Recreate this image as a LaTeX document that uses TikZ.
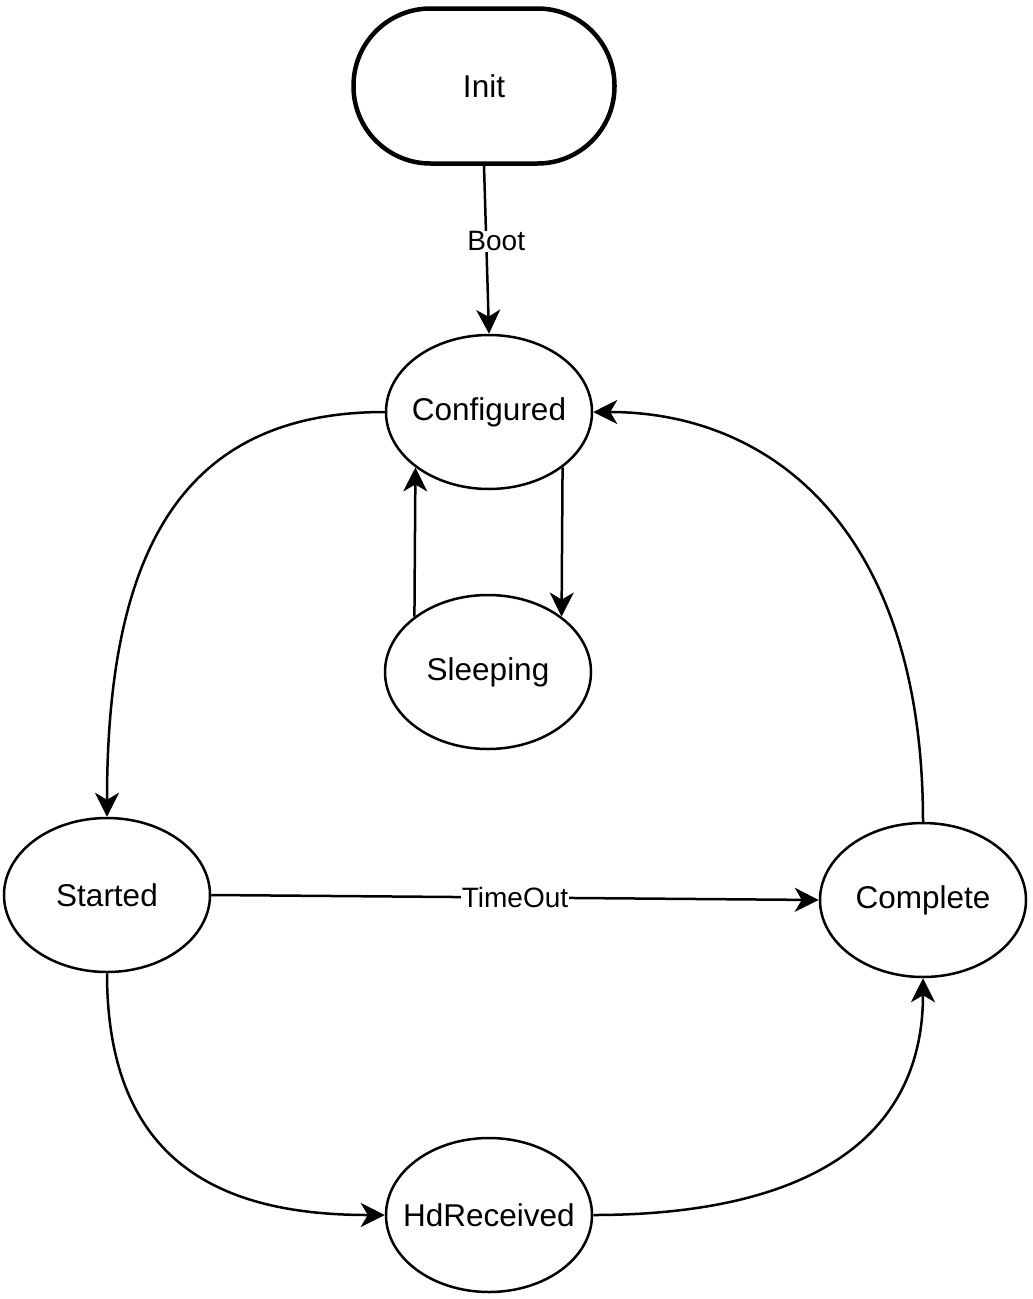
\documentclass[tikz,border=0pt]{standalone}
\usepackage{fontspec}
\setmainfont{Liberation Sans}
\usetikzlibrary{shapes.geometric,arrows.meta}
\begin{document}
\begin{tikzpicture}[x=1pt,y=-1pt,
  state/.style={ellipse,draw,line width=2.5pt,minimum width=206pt,minimum height=154pt,inner sep=0pt,font=\fontsize{31.5}{36}\selectfont},
  arr/.style={line width=2.5pt,-{Stealth[length=24pt,width=24pt,inset=7pt]}},
  lbl/.style={fill=white,inner sep=1pt,font=\fontsize{28}{32}\selectfont}]
\useasboundingbox (0,0) rectangle (1033,1299);
\node[draw,line width=4.5pt,rounded corners=77pt,minimum width=261pt,minimum height=155pt,inner sep=0pt,font=\fontsize{31.5}{36}\selectfont] (init) at (484,86) {Init};
\node[state] (conf) at (489,412) {\makebox[0pt]{Configured}};
\node[state] (sleep) at (488,672) {\makebox[0pt]{Sleeping}};
\node[state] (start) at (107,895) {\makebox[0pt]{Started}};
\node[state] (comp) at (923,900) {\makebox[0pt]{Complete}};
\node[state] (hd) at (489,1215) {\makebox[0pt]{HdReceived}};
\draw[arr] (init.south) -- node[lbl,pos=0.45,xshift=10pt] {Boot} (conf.north);
\draw[arr] (conf.-37) -- (sleep.37);
\draw[arr] (sleep.143) -- (conf.-143);
\draw[arr] (conf.west) .. controls +(-200,0) and +(0,-270) .. (start.north);
\draw[arr] (comp.north) .. controls +(0,-290) and +(180,0) .. (conf.east);
\draw[arr] (start.east) -- node[lbl,pos=0.5] {TimeOut} (comp.west);
\draw[arr] (start.south) .. controls +(0,200) and +(-150,0) .. (hd.west);
\draw[arr] (hd.east) .. controls +(200,0) and +(0,170) .. (comp.south);
\end{tikzpicture}
\end{document}
